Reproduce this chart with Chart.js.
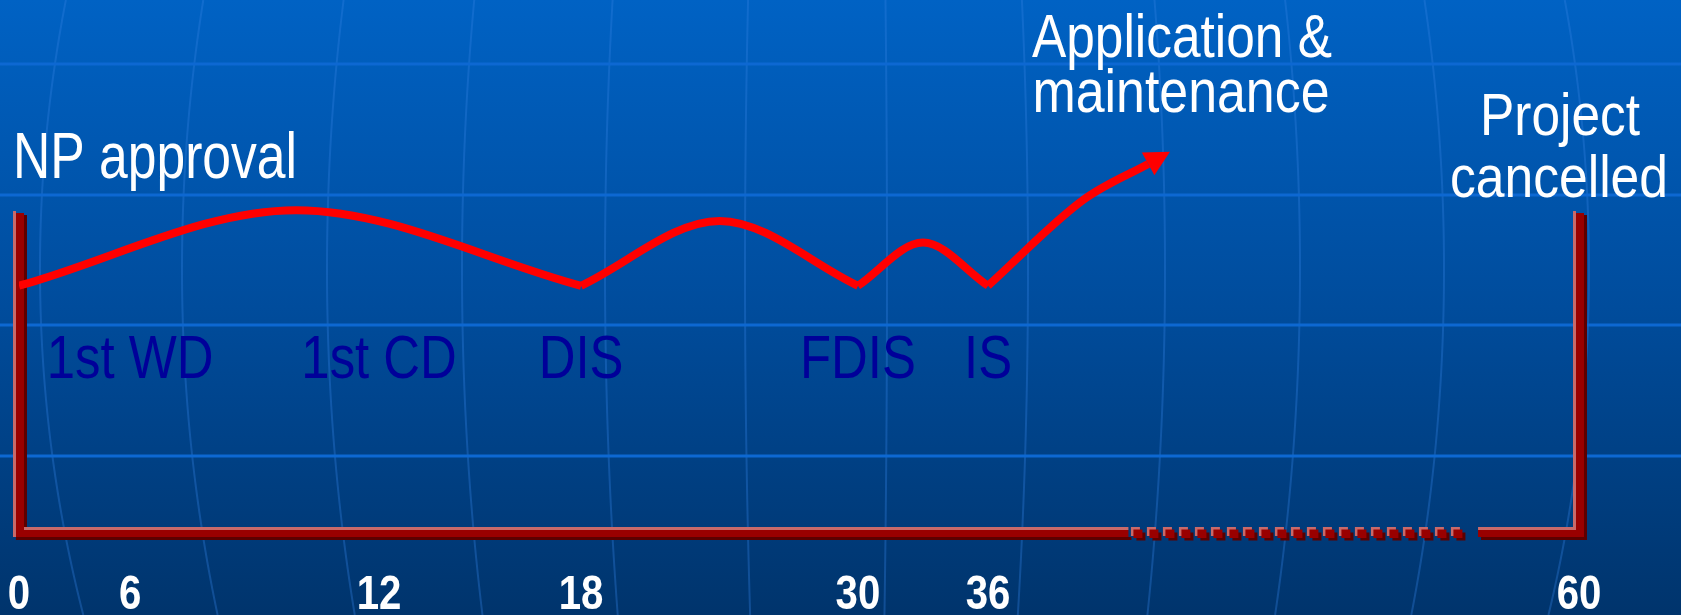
<!DOCTYPE html>
<html>
<head>
<meta charset="utf-8">
<title>Project timeline</title>
<script src="https://cdn.jsdelivr.net/npm/chart.js@4.4.1/dist/chart.umd.min.js"></script>
<style>
  html, body { margin: 0; padding: 0; background: #003a78; overflow: hidden; }
  #wrap { width: 1681px; height: 615px; }
</style>
</head>
<body>
<div id="wrap"><canvas id="timeline" width="1681" height="615"></canvas></div>
<script>
// months since NP approval, as printed under the frame
var monthTicks = [0, 6, 12, 18, 30, 36, 60];
// where each of those months sits along the axis (0 = left end, 1 = right end)
var tickSpot = [0, 0.0712, 0.2308, 0.3603, 0.5378, 0.6212, 1];

var stageNames = ['1st WD', '1st CD', 'DIS', 'FDIS', 'IS'];
var stageMonths = [6, 12, 18, 30, 36];
var stageLabelLevel = 35.6;

// red activity curve, broken at the ballot points
var curveMonths = [0, 10, 18, 24, 30, 33, 36, 39.9, 42.5];
var curveLevel = [57, 74.5, 57, 72, 57, 67, 57, 77, 85.2];
var cuspIndex = [0, 2, 4, 6, 8];

// frame around the project window, dotted where it runs over time
var frameTop = 74.3;
var dottedFrom = 41.7;
var dottedTo = 55.9;

// no narrow font here, so a plain sans is squeezed to narrow width
var sans = '"Liberation Sans", Arial, sans-serif';
var condense = 0.82;

function monthToSpot(m) {
    for (var i = 1; i < monthTicks.length; i++) {
        if (m <= monthTicks[i] || i == monthTicks.length - 1) {
            var a = monthTicks[i - 1], b = monthTicks[i];
            return tickSpot[i - 1] + (m - a) / (b - a) * (tickSpot[i] - tickSpot[i - 1]);
        }
    }
}
function spotToMonth(s) {
    for (var i = 1; i < tickSpot.length; i++) {
        if (s <= tickSpot[i] || i == tickSpot.length - 1) {
            var a = tickSpot[i - 1], b = tickSpot[i];
            return monthTicks[i - 1] + (s - a) / (b - a) * (monthTicks[i] - monthTicks[i - 1]);
        }
    }
}

// linear scale whose months are stretched piecewise between the stage ticks
class StageScale extends Chart.LinearScale {
    getPixelForValue(value) {
        if (value === null || value === undefined || isNaN(value)) return NaN;
        return this.getPixelForDecimal(monthToSpot(value));
    }
    getValueForPixel(pixel) {
        return spotToMonth(this.getDecimalForPixel(pixel));
    }
    drawLabels(chartArea) {
        var ctx = this.ctx;
        var items = this.getLabelItems(chartArea);
        for (var i = 0; i < items.length; i++) {
            var it = items[i], o = it.options;
            ctx.save();
            ctx.translate(o.translation[0], o.translation[1]);
            ctx.scale(condense, 1);
            ctx.font = it.font.string;
            ctx.fillStyle = o.color;
            ctx.textAlign = o.textAlign;
            ctx.textBaseline = o.textBaseline;
            ctx.fillText(it.label, 0, it.textOffset);
            ctx.restore();
        }
    }
}
StageScale.id = 'stage';
StageScale.defaults = Chart.LinearScale.defaults;
Chart.register(StageScale);

var datasets = [];
for (var k = 0; k < cuspIndex.length - 1; k++) {
    var pts = [];
    for (var i = cuspIndex[k]; i <= cuspIndex[k + 1]; i++) {
        pts.push({ x: curveMonths[i], y: curveLevel[i] });
    }
    datasets.push({
        label: 'segment' + k,
        data: pts,
        borderColor: '#ff0000',
        borderWidth: 8,
        borderCapStyle: 'butt',
        pointRadius: 0,
        cubicInterpolationMode: 'monotone',
        fill: false
    });
}

var globeBackground = {
    id: 'globeBackground',
    beforeDraw: function (chart) {
        var ctx = chart.ctx, w = chart.width, h = chart.height;
        ctx.save();
        var g = ctx.createLinearGradient(0, 0, 0, h);
        g.addColorStop(0, '#0062c4');
        g.addColorStop(0.5, '#004c9c');
        g.addColorStop(1, '#00346c');
        ctx.fillStyle = g;
        ctx.fillRect(0, 0, w, h);
        // meridians bulge out around the equator
        var meridians = [40, 182, 327, 462, 605, 745, 887, 1028, 1165, 1300, 1444, 1589];
        ctx.strokeStyle = 'rgba(50,130,225,0.34)';
        ctx.lineWidth = 2;
        meridians.forEach(function (xe) {
            ctx.beginPath();
            for (var y = 0; y <= h; y += 5) {
                var t = (y - 269) / 1066;
                var x = 840 + (xe - 840) * Math.sqrt(1 - t * t);
                if (y == 0) ctx.moveTo(x, y); else ctx.lineTo(x, y);
            }
            ctx.stroke();
        });
        ctx.strokeStyle = '#0d68d2';
        ctx.lineWidth = 3;
        [64, 195, 325, 456].forEach(function (y) {
            ctx.beginPath();
            ctx.moveTo(0, y);
            ctx.lineTo(w, y);
            ctx.stroke();
        });
        ctx.restore();
    }
};

var stageFrame = {
    id: 'stageFrame',
    beforeDatasetsDraw: function (chart) {
        var ctx = chart.ctx, xs = chart.scales.x, ys = chart.scales.y;
        var x0 = xs.getPixelForValue(0), x60 = xs.getPixelForValue(60);
        var yb = ys.getPixelForValue(0), yt = ys.getPixelForValue(frameTop);
        var xd1 = xs.getPixelForValue(dottedFrom), xd2 = xs.getPixelForValue(dottedTo);
        var hi = '#c86a6a', main = '#990000', dark = '#5c0000';
        ctx.save();
        // shadows
        ctx.fillStyle = dark;
        ctx.fillRect(x0 + 5, yt + 4, 3, yb + 8 - yt - 4);
        ctx.fillRect(x0 - 3, yb + 5, xd1 - x0 + 6, 3);
        ctx.fillRect(xd2 + 3, yb + 5, x60 - xd2 + 2, 3);
        ctx.fillRect(x60 + 5, yt + 4, 3, yb + 8 - yt - 4);
        // bar bodies
        ctx.fillStyle = main;
        ctx.fillRect(x0 - 3, yt + 2, 8, yb + 5 - yt - 2);
        ctx.fillRect(x0 - 3, yb - 2, xd1 - x0 + 3, 7);
        ctx.fillRect(xd2, yb - 2, x60 - xd2 + 5, 7);
        ctx.fillRect(x60 - 3, yt + 2, 8, yb + 5 - yt - 2);
        // highlights
        ctx.fillStyle = hi;
        ctx.fillRect(x0 - 6, yt, 3, yb + 5 - yt);
        ctx.fillRect(x0 + 5, yb - 5, xd1 - x0 - 5, 3);
        ctx.fillRect(xd2, yb - 5, x60 - 6 - xd2 + 3, 3);
        ctx.fillRect(x60 - 6, yt, 3, yb - 2 - yt);
        // dotted overrun
        for (var x = xd1 + 5; x + 9 <= xd2 - 4; x += 16) {
            ctx.fillStyle = hi;
            ctx.fillRect(x - 2.5, yb - 5, 9, 9);
            ctx.fillStyle = dark;
            ctx.fillRect(x + 3, yb + 0.5, 9, 8);
            ctx.fillStyle = main;
            ctx.fillRect(x, yb - 2.5, 9, 8.5);
        }
        ctx.restore();
    }
};

function putText(ctx, text, x, y, size, color, align, width) {
    ctx.font = size + 'px ' + sans;
    var sx = condense;
    if (width) sx = width / ctx.measureText(text).width;
    ctx.save();
    ctx.translate(x, y);
    ctx.scale(sx, 1);
    ctx.textAlign = align;
    ctx.textBaseline = 'alphabetic';
    ctx.fillStyle = color;
    ctx.fillText(text, 0, 0);
    ctx.restore();
}

var stageText = {
    id: 'stageText',
    afterDatasetsDraw: function (chart) {
        var ctx = chart.ctx, xs = chart.scales.x, ys = chart.scales.y;
        ctx.save();
        var ly = ys.getPixelForValue(stageLabelLevel);
        for (var i = 0; i < stageNames.length; i++) {
            putText(ctx, stageNames[i], xs.getPixelForValue(stageMonths[i]), ly, 62, '#000099', 'center');
        }
        putText(ctx, 'NP approval', 13, 178, 64, '#ffffff', 'left', 284);
        putText(ctx, 'Application &', 1182, 57, 61, '#ffffff', 'center', 300);
        putText(ctx, 'maintenance', 1181, 112, 61, '#ffffff', 'center', 297);
        putText(ctx, 'Project', 1560, 135, 60, '#ffffff', 'center', 160);
        putText(ctx, 'cancelled', 1559, 197, 60, '#ffffff', 'center', 218);

        // arrow head on the last curve point
        var meta = chart.getDatasetMeta(chart.data.datasets.length - 1);
        var p = meta.data[meta.data.length - 1];
        var q = meta.data[meta.data.length - 2];
        var dx = p.x - (isFinite(p.cp1x) ? p.cp1x : q.x);
        var dy = p.y - (isFinite(p.cp1y) ? p.cp1y : q.y);
        var len = Math.sqrt(dx * dx + dy * dy);
        var ux = dx / len, uy = dy / len;
        ctx.fillStyle = '#ff0000';
        ctx.beginPath();
        ctx.moveTo(p.x + ux * 25, p.y + uy * 25);
        ctx.lineTo(p.x - uy * 13, p.y + ux * 13);
        ctx.lineTo(p.x + uy * 13, p.y - ux * 13);
        ctx.closePath();
        ctx.fill();
        ctx.restore();
    }
};

var chart = new Chart(document.getElementById('timeline'), {
    type: 'line',
    data: { datasets: datasets },
    options: {
        responsive: false,
        animation: false,
        events: [],
        layout: { padding: { left: 19, right: 102, top: 100, bottom: -44 } },
        plugins: { legend: { display: false }, tooltip: { enabled: false } },
        scales: {
            x: {
                type: 'stage',
                min: 0,
                max: 60,
                afterBuildTicks: function (axis) {
                    axis.ticks = monthTicks.map(function (m) { return { value: m }; });
                },
                grid: { display: false, drawTicks: false },
                border: { display: false },
                ticks: {
                    autoSkip: false,
                    maxRotation: 0,
                    padding: 0,
                    color: '#ffffff',
                    font: { family: sans, size: 49, weight: 'bold', lineHeight: '127px' },
                    callback: function (v) { return String(v); }
                }
            },
            y: {
                display: false,
                min: 0,
                max: 100
            }
        }
    },
    plugins: [globeBackground, stageFrame, stageText]
});
</script>
</body>
</html>
